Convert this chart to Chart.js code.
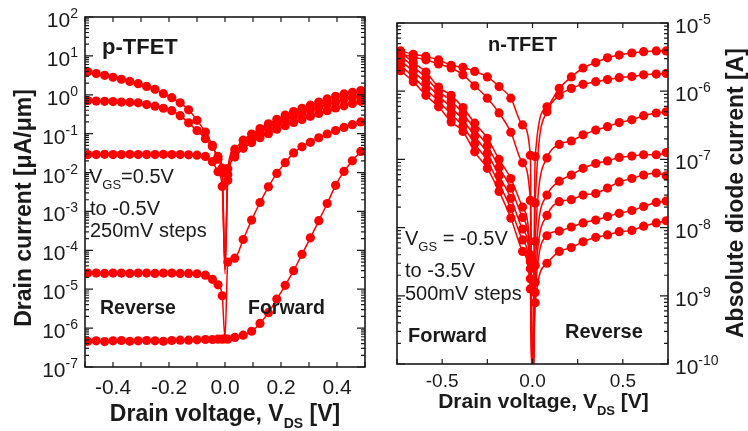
<!DOCTYPE html>
<html>
<head>
<meta charset="utf-8">
<script src="https://cdn.jsdelivr.net/npm/chart.js@4.4.1/dist/chart.umd.min.js"></script>
<style>
  html, body { margin: 0; padding: 0; background: #fff; }
  #wrap { position: relative; width: 748px; height: 431px; overflow: hidden; }
  .panel { position: absolute; top: 0; }
</style>
</head>
<body>
<div id="wrap">
  <div class="panel" style="left:0"><canvas id="pChart" width="380" height="431"></canvas></div>
  <div class="panel" style="left:380px"><canvas id="nChart" width="368" height="431"></canvas></div>
</div>
<script>
// ---------- p-TFET (left panel): drain current [uA/um] vs VDS [V] ----------
const pVds = [-0.49, -0.46, -0.43, -0.40, -0.37, -0.34, -0.31, -0.28, -0.25, -0.22, -0.19, -0.16, -0.13, -0.10, -0.07, -0.045, -0.025, -0.01,
  0,
  0.01, 0.035, 0.065, 0.095, 0.125, 0.155, 0.185, 0.215, 0.245, 0.275, 0.305, 0.335, 0.365, 0.395, 0.425, 0.455, 0.485];

const pVgsLabels = ['-0.5V', '-0.25V', '0V', '0.25V', '0.5V'];
const pIdA = [3.89, 3.51, 3.16, 2.82, 2.51, 2.21, 1.93, 1.64, 1.38, 1.07, 0.84, 0.62, 0.41, 0.22, 0.11, 0.050, 0.022, 0.010,
  2.5e-5,
  0.0126, 0.040, 0.068, 0.098, 0.135, 0.18, 0.234, 0.30, 0.37, 0.45, 0.54, 0.65, 0.78, 0.91, 1.05, 1.15, 1.29];
const pIdB = [0.71, 0.69, 0.68, 0.67, 0.65, 0.64, 0.62, 0.56, 0.51, 0.45, 0.39, 0.29, 0.19, 0.12, 0.074, 0.047, 0.026, 0.013,
  3.2e-5,
  0.0089, 0.032, 0.052, 0.076, 0.105, 0.14, 0.18, 0.22, 0.28, 0.33, 0.40, 0.48, 0.56, 0.66, 0.76, 0.85, 0.95];
const pIdC = [0.029, 0.029, 0.0295, 0.029, 0.029, 0.0295, 0.029, 0.029, 0.029, 0.0295, 0.029, 0.029, 0.0285, 0.028, 0.026, 0.019, 0.0105, 0.0044,
  4.0e-5,
  0.0063, 0.025, 0.042, 0.059, 0.079, 0.10, 0.13, 0.16, 0.195, 0.23, 0.28, 0.33, 0.39, 0.46, 0.52, 0.60, 0.68];
const pIdD = [2.6e-5, 2.6e-5, 2.55e-5, 2.6e-5, 2.6e-5, 2.55e-5, 2.6e-5, 2.6e-5, 2.55e-5, 2.6e-5, 2.6e-5, 2.55e-5, 2.55e-5, 2.5e-5, 2.3e-5, 1.8e-5, 1.3e-5, 6.8e-6,
  5.6e-7,
  5.0e-5, 6.3e-5, 1.9e-4, 6.0e-4, 1.7e-3, 4.3e-3, 9.5e-3, 0.018, 0.032, 0.046, 0.060, 0.078, 0.098, 0.12, 0.145, 0.17, 0.20];
const pIdE = [4.6e-7, 4.7e-7, 4.5e-7, 4.7e-7, 4.8e-7, 4.6e-7, 4.7e-7, 4.8e-7, 4.7e-7, 4.6e-7, 4.8e-7, 4.9e-7, 4.9e-7, 5.0e-7, 5.1e-7, 5.1e-7, 5.2e-7, 5.2e-7,
  5.3e-7,
  5.2e-7, 5.75e-7, 6.6e-7, 8.3e-7, 1.32e-6, 2.5e-6, 5.6e-6, 1.26e-5, 3.0e-5, 7.9e-5, 2.1e-4, 5.8e-4, 1.6e-3, 4.7e-3, 0.0107, 0.020, 0.035];

const pXTickVals = [-0.5, -0.4, -0.3, -0.2, -0.1, 0, 0.1, 0.2, 0.3, 0.4, 0.5];
const pXLabelVals = [-0.4, -0.2, 0, 0.2, 0.4];
const pXLabels = ['-0.4', '-0.2', '0.0', '0.2', '0.4'];
const pDecades = [2, 1, 0, -1, -2, -3, -4, -5, -6, -7];

// ---------- n-TFET (right panel): absolute diode current [A] vs VDS [V] ----------
const nVds = [-0.73, -0.66, -0.59, -0.52, -0.45, -0.385, -0.32, -0.25, -0.185, -0.12, -0.055, -0.012,
  0,
  0.015, 0.08, 0.148, 0.215, 0.28, 0.35, 0.415, 0.48, 0.55, 0.615, 0.685, 0.74];

const nVgsLabels = ['-0.5V', '-1.0V', '-1.5V', '-2.0V', '-2.5V', '-3.0V', '-3.5V'];
const nId1 = [3.89e-6, 3.47e-6, 3.24e-6, 2.88e-6, 2.4e-6, 2.24e-6, 1.95e-6, 1.62e-6, 1.17e-6, 7.9e-7, 3.2e-7, 1.15e-7,
  3e-11,
  1.1e-7, 5.9e-7, 1.1e-6, 1.62e-6, 2.19e-6, 2.63e-6, 3.09e-6, 3.39e-6, 3.63e-6, 3.8e-6, 3.89e-6, 3.89e-6];
const nId2 = [3.55e-6, 3.16e-6, 2.88e-6, 2.51e-6, 2.19e-6, 1.74e-6, 1.2e-6, 7.9e-7, 4.8e-7, 2.5e-7, 8.9e-8, 2.5e-8,
  3e-11,
  2.3e-8, 5.0e-7, 8.7e-7, 1.1e-6, 1.26e-6, 1.38e-6, 1.48e-6, 1.58e-6, 1.64e-6, 1.74e-6, 1.78e-6, 1.82e-6];
const nId3 = [3.8e-6, 2.63e-6, 1.91e-6, 1.15e-6, 8.7e-7, 5.75e-7, 3.4e-7, 2.04e-7, 1.0e-7, 5.25e-8, 2.0e-8, 4.0e-9,
  3e-11,
  6.3e-9, 1.05e-7, 1.66e-7, 1.86e-7, 2.29e-7, 2.69e-7, 3.02e-7, 3.47e-7, 3.8e-7, 4.37e-7, 4.79e-7, 5.0e-7];
const nId4 = [3.31e-6, 2.29e-6, 1.58e-6, 1.0e-6, 7.2e-7, 4.7e-7, 2.75e-7, 1.58e-7, 7.6e-8, 3.8e-8, 1.41e-8, 3.16e-9,
  3e-11,
  2.8e-9, 3.0e-8, 4.8e-8, 5.9e-8, 7.4e-8, 8.7e-8, 9.5e-8, 1.07e-7, 1.12e-7, 1.17e-7, 1.17e-7, 1.26e-7];
const nId5 = [2.82e-6, 1.95e-6, 1.32e-6, 8.5e-7, 5.75e-7, 3.8e-7, 2.19e-7, 1.23e-7, 5.75e-8, 2.69e-8, 9.5e-9, 2.5e-9,
  3e-11,
  1.58e-9, 1.51e-8, 2.4e-8, 2.57e-8, 3.0e-8, 3.16e-8, 3.8e-8, 4.68e-8, 5.25e-8, 5.9e-8, 6.3e-8, 5.75e-8];
const nId6 = [2.4e-6, 1.62e-6, 1.07e-6, 7.1e-7, 4.57e-7, 3.09e-7, 1.7e-7, 9.5e-8, 4.37e-8, 1.91e-8, 6.6e-9, 1.78e-9,
  3e-11,
  1.12e-9, 7.6e-9, 8.9e-9, 1.02e-8, 1.17e-8, 1.29e-8, 1.45e-8, 1.62e-8, 1.78e-8, 2.04e-8, 2.34e-8, 2.45e-8];
const nId7 = [2.0e-6, 1.38e-6, 8.7e-7, 5.9e-7, 3.55e-7, 2.57e-7, 1.29e-7, 7.4e-8, 3.39e-8, 1.38e-8, 4.47e-9, 1.26e-9,
  3e-11,
  7.9e-10, 3.0e-9, 4.47e-9, 5.1e-9, 6.2e-9, 7.2e-9, 7.8e-9, 8.7e-9, 9.1e-9, 1.05e-8, 1.17e-8, 1.26e-8];

const nXTickVals = [-0.75, -0.5, -0.25, 0, 0.25, 0.5, 0.75];
const nXLabelVals = [-0.5, 0, 0.5];
const nXLabels = ['-0.5', '0.0', '0.5'];
const nDecades = [-5, -6, -7, -8, -9, -10];

// ---------- drawing helpers ----------
const RED = '#ff0000';
const INK = '#1a1a1a';
const FAM = '"Liberation Sans", Arial, sans-serif';

function font(size, bold) {
  return (bold ? 'bold ' : '') + size + 'px ' + FAM;
}

// parts: [{t, size, bold, dy}] drawn one after another on one baseline
function drawParts(ctx, parts, x, y, align) {
  let total = 0;
  parts.forEach(p => { ctx.font = font(p.size, p.bold); p.w = ctx.measureText(p.t).width; total += p.w; });
  let cx = align === 'center' ? x - total / 2 : align === 'right' ? x - total : x;
  ctx.textAlign = 'left';
  ctx.textBaseline = 'alphabetic';
  parts.forEach(p => {
    ctx.font = font(p.size, p.bold);
    ctx.fillText(p.t, cx, y + (p.dy || 0));
    cx += p.w;
  });
}

function powLabel(exp, size) {
  return [{ t: '10', size: size }, { t: String(exp), size: Math.round(size * 0.66), dy: -9 }];
}

function drawFrame(chart, xTicks, decades) {
  const { ctx, chartArea: a, scales: { x, y } } = chart;
  ctx.save();
  ctx.strokeStyle = INK;
  ctx.lineWidth = 1.2;
  ctx.beginPath();
  xTicks.forEach(v => {
    const px = x.getPixelForValue(v);
    ctx.moveTo(px, a.bottom); ctx.lineTo(px, a.bottom - 5);
    ctx.moveTo(px, a.top); ctx.lineTo(px, a.top + 5);
  });
  const hi = Math.max(...decades), lo = Math.min(...decades);
  for (let e = lo; e <= hi; e++) {
    for (let m = 1; m < 10; m++) {
      if (e === hi && m > 1) break;
      const py = y.getPixelForValue(m * Math.pow(10, e));
      const len = m === 1 ? 8 : 4;
      ctx.moveTo(a.left, py); ctx.lineTo(a.left + len, py);
      ctx.moveTo(a.right, py); ctx.lineTo(a.right - len, py);
    }
  }
  ctx.stroke();
  ctx.lineWidth = 1.6;
  ctx.strokeRect(a.left, a.top, a.right - a.left, a.bottom - a.top);
  ctx.restore();
}

function makeDatasets(xs, curves, labels, spikes) {
  return curves.map((vals, i) => ({
    label: 'VGS = ' + labels[i],
    data: xs.map((v, k) => ({ x: v, y: vals[k] })),
    spike: spikes[i],
    borderColor: RED,
    backgroundColor: RED,
    pointBackgroundColor: RED,
    pointBorderColor: RED,
    borderWidth: 1.5,
    pointBorderWidth: 0,
    pointRadius: c => (c.dataset.spike && c.raw && c.raw.x === 0) ? 0 : 4.6,
    pointHoverRadius: 0,
    cubicInterpolationMode: 'monotone'
  }));
}

function hiddenScales(xMin, xMax, yMin, yMax) {
  return {
    x: { type: 'linear', min: xMin, max: xMax, display: false },
    y: { type: 'logarithmic', min: yMin, max: yMax, display: false }
  };
}

// ---------- left chart decorations ----------
const pDecor = {
  id: 'pDecor',
  afterDatasetsDraw(chart) {
    const { ctx, chartArea: a, scales: { x, y } } = chart;
    drawFrame(chart, pXTickVals, pDecades);
    ctx.save();
    ctx.fillStyle = INK;
    pDecades.forEach(e => drawParts(ctx, powLabel(e, 21), 78, y.getPixelForValue(Math.pow(10, e)) + 10, 'right'));
    pXLabelVals.forEach((v, i) => drawParts(ctx, [{ t: pXLabels[i], size: 21 }], x.getPixelForValue(v), 394, 'center'));
    drawParts(ctx, [{ t: 'Drain voltage, V', size: 23, bold: true }, { t: 'DS', size: 14, bold: true, dy: 7 }, { t: ' [V]', size: 23, bold: true }], 225, 421, 'center');
    ctx.save();
    ctx.translate(31, 208);
    ctx.rotate(-Math.PI / 2);
    drawParts(ctx, [{ t: 'Drain current [\u03bcA/\u03bcm]', size: 23, bold: true }], 0, 0, 'center');
    ctx.restore();
    drawParts(ctx, [{ t: 'p-TFET', size: 22, bold: true }], 102, 54, 'left');
    drawParts(ctx, [{ t: 'V', size: 20 }, { t: 'GS', size: 13, dy: 6 }, { t: '=0.5V', size: 20 }], 89, 183, 'left');
    drawParts(ctx, [{ t: 'to -0.5V', size: 20 }], 90, 215, 'left');
    drawParts(ctx, [{ t: '250mV steps', size: 20 }], 90, 237, 'left');
    drawParts(ctx, [{ t: 'Reverse', size: 19.5, bold: true }], 100, 314, 'left');
    drawParts(ctx, [{ t: 'Forward', size: 19.5, bold: true }], 248, 314, 'left');
    ctx.restore();
  }
};

// ---------- right chart decorations ----------
const nDecor = {
  id: 'nDecor',
  afterDatasetsDraw(chart) {
    const { ctx, chartArea: a, scales: { x, y } } = chart;
    drawFrame(chart, nXTickVals, nDecades);
    ctx.save();
    ctx.fillStyle = INK;
    nDecades.forEach(e => drawParts(ctx, powLabel(e, 21), a.right + 7, y.getPixelForValue(Math.pow(10, e)) + 10, 'left'));
    nXLabelVals.forEach((v, i) => drawParts(ctx, [{ t: nXLabels[i], size: 19 }], x.getPixelForValue(v), 387, 'center'));
    drawParts(ctx, [{ t: 'Drain voltage, V', size: 21, bold: true }, { t: 'DS', size: 13, bold: true, dy: 7 }, { t: ' [V]', size: 21, bold: true }], 163.5, 408, 'center');
    ctx.save();
    ctx.translate(363, 193);
    ctx.rotate(-Math.PI / 2);
    drawParts(ctx, [{ t: 'Absolute diode current [A]', size: 23, bold: true }], 0, 0, 'center');
    ctx.restore();
    drawParts(ctx, [{ t: 'n-TFET', size: 20, bold: true }], 108, 51, 'left');
    drawParts(ctx, [{ t: 'V', size: 20 }, { t: 'GS', size: 13, dy: 6 }, { t: ' = -0.5V', size: 20 }], 25, 245, 'left');
    drawParts(ctx, [{ t: 'to -3.5V', size: 20 }], 25, 277, 'left');
    drawParts(ctx, [{ t: '500mV steps', size: 20 }], 25, 300, 'left');
    drawParts(ctx, [{ t: 'Forward', size: 20, bold: true }], 28, 342, 'left');
    drawParts(ctx, [{ t: 'Reverse', size: 20, bold: true }], 185, 338, 'left');
    ctx.restore();
  }
};

const commonOptions = {
  responsive: false,
  animation: false,
  events: [],
  plugins: { legend: { display: false }, tooltip: { enabled: false } }
};

new Chart(document.getElementById('pChart').getContext('2d'), {
  type: 'line',
  data: {
    datasets: makeDatasets(pVds, [pIdA, pIdB, pIdC, pIdD, pIdE], pVgsLabels, [true, true, true, true, false])
  },
  options: Object.assign({}, commonOptions, {
    layout: { padding: { left: 85, right: 15, top: 17, bottom: 64 } },
    scales: hiddenScales(-0.5, 0.5, 1e-7, 100)
  }),
  plugins: [pDecor]
});

new Chart(document.getElementById('nChart').getContext('2d'), {
  type: 'line',
  data: {
    datasets: makeDatasets(nVds, [nId1, nId2, nId3, nId4, nId5, nId6, nId7], nVgsLabels, [true, true, true, true, true, true, true])
  },
  options: Object.assign({}, commonOptions, {
    layout: { padding: { left: 17, right: 80, top: 23, bottom: 67 } },
    scales: hiddenScales(-0.75, 0.75, 1e-10, 1e-5)
  }),
  plugins: [nDecor]
});
</script>
</body>
</html>
